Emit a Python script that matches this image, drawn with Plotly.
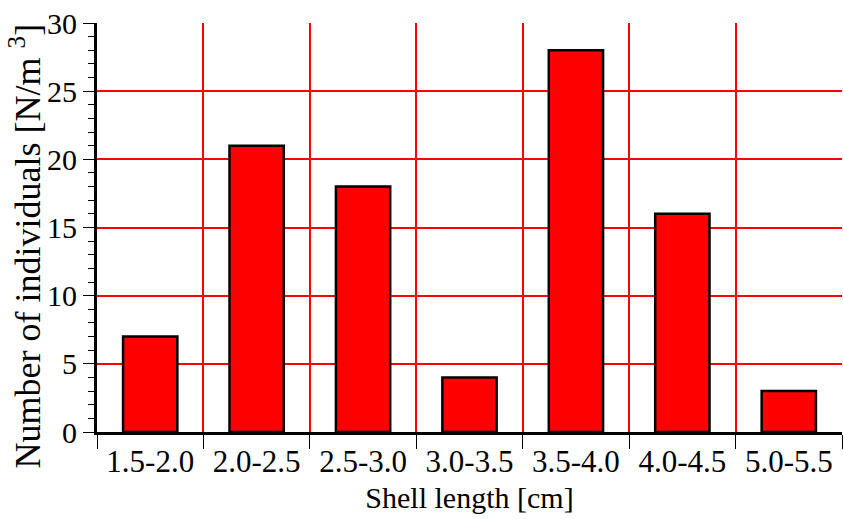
import plotly.graph_objects as go

# Shell-length classes and abundance per class
size_classes = ["1.5-2.0", "2.0-2.5", "2.5-3.0", "3.0-3.5", "3.5-4.0", "4.0-4.5", "5.0-5.5"]
abundance = [7, 21, 18, 4, 28, 16, 3]

y_ticks = [0, 5, 10, 15, 20, 25, 30]

FONT = "Times New Roman, Liberation Serif, serif"
GRID_RED = "rgb(255,0,0)"

fig = go.Figure(
    go.Bar(
        x=size_classes,
        y=abundance,
        width=0.51,
        marker=dict(color="#ff0000", line=dict(color="black", width=2.5)),
    )
)

fig.update_layout(
    width=843,
    height=519,
    margin=dict(l=97, r=1, t=23, b=87),
    paper_bgcolor="white",
    plot_bgcolor="white",
    showlegend=False,
    font=dict(family=FONT, color="black"),
)

fig.update_xaxes(
    type="category",
    range=[-0.5, 6.5],
    tickson="boundaries",
    showgrid=True,
    gridcolor=GRID_RED,
    gridwidth=1.5,
    ticks="outside",
    ticklen=14,
    tickwidth=1,
    tickcolor="black",
    tickfont=dict(family=FONT, size=31),
    showline=True,
    linecolor="black",
    linewidth=3,
    title=dict(text="Shell length [cm]", font=dict(family=FONT, size=30), standoff=9),
)

fig.update_yaxes(
    range=[0, 30],
    tickvals=y_ticks,
    ticktext=[str(v) for v in y_ticks],
    showgrid=True,
    gridcolor=GRID_RED,
    gridwidth=1.5,
    zeroline=False,
    ticks="outside",
    ticklen=11,
    tickwidth=1,
    tickcolor="black",
    tickfont=dict(family=FONT, size=30),
    showline=True,
    linecolor="black",
    linewidth=3,
    minor=dict(dtick=1, ticks="outside", ticklen=6, tickcolor="black", tickwidth=1, showgrid=False),
)

# Vertical axis title, placed as a rotated annotation
fig.add_annotation(
    text="Number of individuals [N/m <sup>3</sup>]",
    textangle=-90,
    xref="paper",
    yref="paper",
    x=-0.096,
    y=0.455,
    xanchor="center",
    yanchor="middle",
    showarrow=False,
    font=dict(family=FONT, size=36),
)

fig.write_html("out.html")
